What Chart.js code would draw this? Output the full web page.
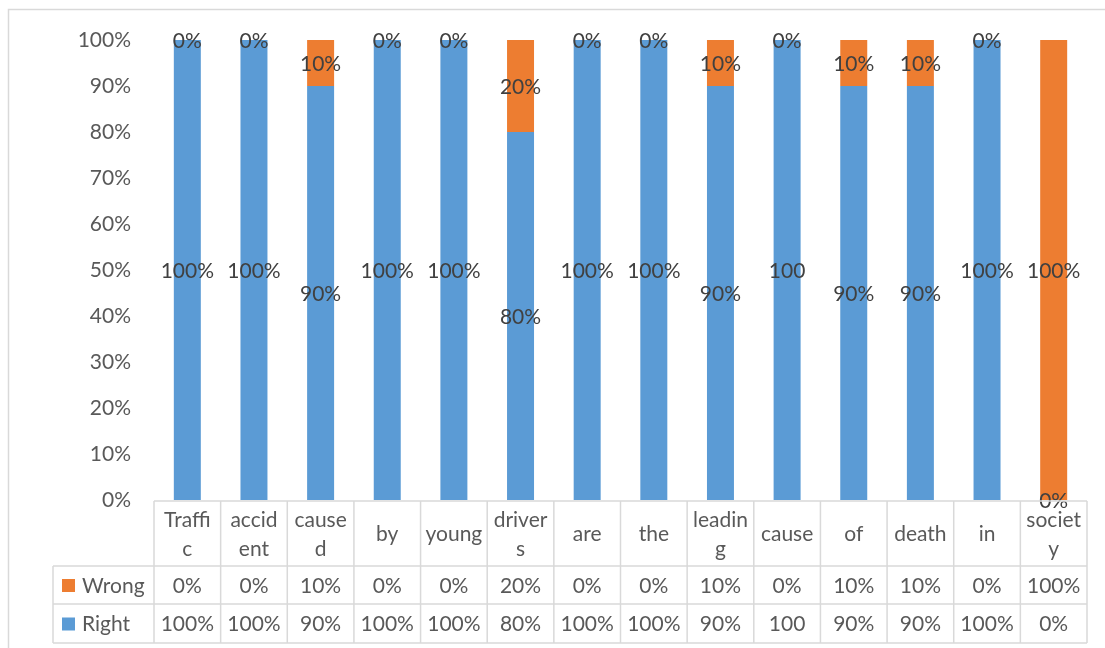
<!DOCTYPE html>
<html>
<head>
<meta charset="utf-8">
<script src="https://cdn.jsdelivr.net/npm/chart.js@4"></script>
<style>
  body { margin: 0; background: #fff; }
  #wrap { position: relative; width: 1105px; height: 648px; }
</style>
</head>
<body>
<div id="wrap"><canvas id="chart" width="1105" height="648"></canvas></div>
<script>
// words of the sentence, and how the table wraps them
const categories = ["Traffic", "accident", "caused", "by", "young", "drivers", "are", "the", "leading", "cause", "of", "death", "in", "society"];
const categoryLines = [["Traffi", "c"], ["accid", "ent"], ["cause", "d"], ["by"], ["young"], ["driver", "s"], ["are"], ["the"], ["leadin", "g"], ["cause"], ["of"], ["death"], ["in"], ["societ", "y"]];

const rightValues = [100, 100, 90, 100, 100, 80, 100, 100, 90, 100, 90, 90, 100, 0];
const wrongValues = [0, 0, 10, 0, 0, 20, 0, 0, 10, 0, 10, 10, 0, 100];
// labels as printed (one cell shows "100" without the sign)
const rightLabels = ["100%", "100%", "90%", "100%", "100%", "80%", "100%", "100%", "90%", "100", "90%", "90%", "100%", "0%"];
const wrongLabels = ["0%", "0%", "10%", "0%", "0%", "20%", "0%", "0%", "10%", "0%", "10%", "10%", "0%", "100%"];

const yTicks = [0, 10, 20, 30, 40, 50, 60, 70, 80, 90, 100];

const BLUE = "#5B9BD5";
const ORANGE = "#ED7D31";
const TEXT = "#595959";
const GRID = "#d9d9d9";
const FONT = "Lato, 'Open Sans', sans-serif";
const FSIZE = 21;

// data labels in the middle of each segment
const segmentLabels = {
  id: "segmentLabels",
  afterDatasetsDraw(chart) {
    const ctx = chart.ctx;
    ctx.save();
    ctx.font = FSIZE + "px " + FONT;
    ctx.fillStyle = "#404040";
    ctx.textAlign = "center";
    ctx.textBaseline = "middle";
    chart.data.datasets.forEach((ds, di) => {
      chart.getDatasetMeta(di).data.forEach((bar, i) => {
        const y = (bar.y + bar.base) / 2;
        ctx.fillText(ds.labelsText[i], bar.x, y + 1);
      });
    });
    ctx.restore();
  }
};

// the data table under the plot plus the outer frame
const dataTable = {
  id: "dataTable",
  afterDraw(chart) {
    const ctx = chart.ctx;
    const area = chart.chartArea;
    const x = chart.scales.x;
    const colW = (area.right - area.left) / categories.length;
    const top = area.bottom + 1;
    const rowCat = top + 65;
    const rowWrong = rowCat + 38;
    const rowRight = rowWrong + 39;
    const legLeft = 53;

    ctx.save();
    ctx.strokeStyle = GRID;
    ctx.lineWidth = 1.5;
    ctx.beginPath();
    ctx.moveTo(area.left, top); ctx.lineTo(area.right, top);
    [rowCat, rowWrong, rowRight].forEach(y => { ctx.moveTo(legLeft, y); ctx.lineTo(area.right, y); });
    ctx.moveTo(legLeft, rowCat); ctx.lineTo(legLeft, rowRight);
    for (let k = 0; k <= categories.length; k++) {
      const xx = area.left + k * colW;
      ctx.moveTo(xx, top); ctx.lineTo(xx, rowRight);
    }
    ctx.stroke();

    // outer chart frame
    ctx.strokeRect(8.5, 9.5, 1300, 800);

    ctx.font = FSIZE + "px " + FONT;
    ctx.fillStyle = TEXT;
    ctx.textAlign = "center";
    ctx.textBaseline = "middle";
    categoryLines.forEach((lines, i) => {
      const cx = x.getPixelForValue(i);
      const mid = (top + rowCat) / 2;
      const lh = 29;
      lines.forEach((t, j) => {
        ctx.fillText(t, cx, mid + (j - (lines.length - 1) / 2) * lh + 1);
      });
      ctx.fillText(wrongLabels[i], cx, (rowCat + rowWrong) / 2 + 1);
      ctx.fillText(rightLabels[i], cx, (rowWrong + rowRight) / 2 + 1);
    });

    // legend keys
    ctx.textAlign = "left";
    ctx.fillStyle = ORANGE;
    ctx.fillRect(62, (rowCat + rowWrong) / 2 - 6, 13, 13);
    ctx.fillStyle = BLUE;
    ctx.fillRect(62, (rowWrong + rowRight) / 2 - 6, 13, 13);
    ctx.fillStyle = TEXT;
    ctx.fillText("Wrong", 82, (rowCat + rowWrong) / 2 + 1);
    ctx.fillText("Right", 82, (rowWrong + rowRight) / 2 + 1);
    ctx.restore();
  }
};

new Chart(document.getElementById("chart"), {
  type: "bar",
  data: {
    labels: categories,
    datasets: [
      { label: "Right", data: rightValues, labelsText: rightLabels, backgroundColor: BLUE,
        barPercentage: 0.405, categoryPercentage: 1 },
      { label: "Wrong", data: wrongValues, labelsText: wrongLabels, backgroundColor: ORANGE,
        barPercentage: 0.405, categoryPercentage: 1 }
    ]
  },
  options: {
    responsive: false,
    animation: false,
    layout: { padding: { left: 0, right: 18, top: 40, bottom: 148 } },
    plugins: { legend: { display: false }, tooltip: { enabled: false } },
    scales: {
      x: { stacked: true, display: false },
      y: {
        stacked: true,
        min: 0,
        max: 100,
        afterFit(scale) { scale.width = 154; },
        afterBuildTicks(scale) { scale.ticks = yTicks.map(v => ({ value: v })); },
        grid: { display: false, drawTicks: false },
        border: { display: false },
        ticks: {
          padding: 23,
          color: TEXT,
          font: { family: FONT, size: FSIZE },
          callback: v => v + "%"
        }
      }
    }
  },
  plugins: [segmentLabels, dataTable]
});
</script>
</body>
</html>
